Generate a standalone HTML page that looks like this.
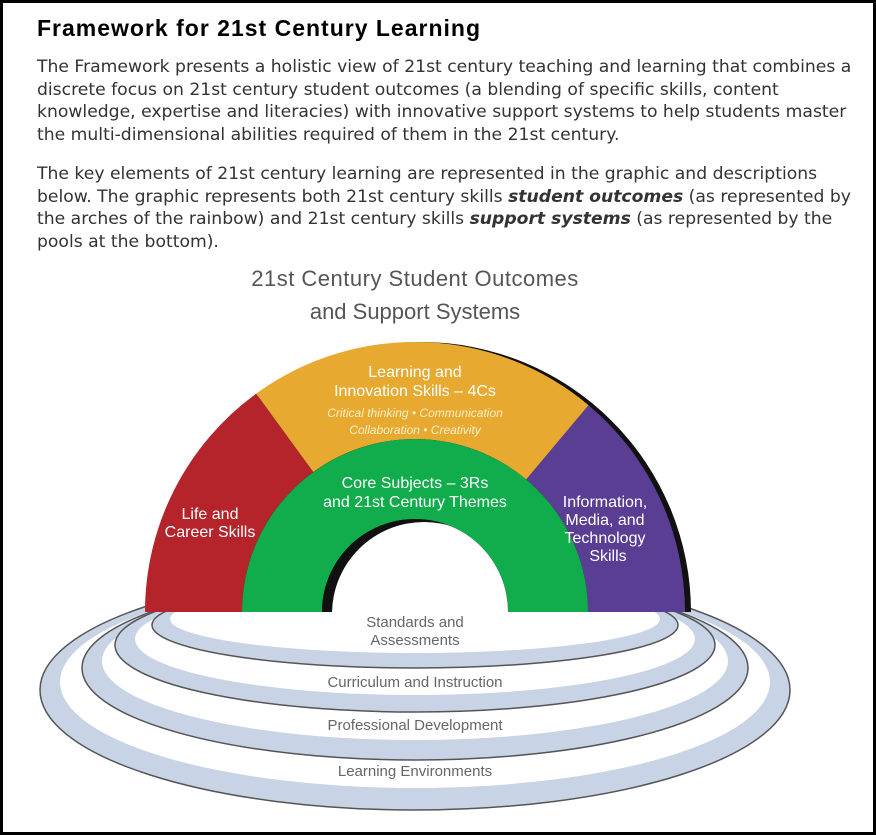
<!DOCTYPE html>
<html><head><meta charset="utf-8"><style>
html,body{margin:0;padding:0;background:#fff;}
#f{position:relative;width:876px;height:835px;box-sizing:border-box;border:3px solid #000;overflow:hidden;}
h1{position:absolute;left:34px;top:12px;margin:0;font:bold 23px "Liberation Sans",sans-serif;letter-spacing:1px;color:#000;}
.p{position:absolute;left:34px;font:17.2px "DejaVu Sans",sans-serif;color:#333;line-height:22.5px;white-space:nowrap;}
</style></head><body><div id="f">
<h1>Framework for 21st Century Learning</h1>
<div class="p" style="top:53px">The Framework presents a holistic view of 21st century teaching and learning that combines a<br>discrete focus on 21st century student outcomes (a blending of specific skills, content<br>knowledge, expertise and literacies) with innovative support systems to help students master<br>the multi-dimensional abilities required of them in the 21st century.</div>
<div class="p" style="top:160px">The key elements of 21st century learning are represented in the graphic and descriptions<br>below. The graphic represents both 21st century skills <b><i>student outcomes</i></b> (as represented by<br>the arches of the rainbow) and 21st century skills <b><i>support systems</i></b> (as represented by the<br>pools at the bottom).</div>
<svg width="876" height="835" style="position:absolute;left:-3px;top:-3px" font-family="Liberation Sans, sans-serif">
<defs><clipPath id="h"><path d="M322,612 A93,93 0 0 1 508,612 Z"/></clipPath></defs>
<text x="415" y="286" text-anchor="middle" font-size="22" fill="#555" letter-spacing="0.5">21st Century Student Outcomes</text>
<text x="415" y="319" text-anchor="middle" font-size="22" fill="#555">and Support Systems</text>
<g stroke="#555" stroke-width="1.5">
<ellipse cx="415" cy="690" rx="375" ry="120" fill="#c8d3e5"/>
<ellipse cx="415" cy="682" rx="355" ry="106" fill="#fff" stroke="none"/>
<ellipse cx="415" cy="668" rx="333" ry="92" fill="#c8d3e5"/>
<ellipse cx="415" cy="661" rx="313" ry="79" fill="#fff" stroke="none"/>
<ellipse cx="415" cy="645" rx="300" ry="67" fill="#c8d3e5"/>
<ellipse cx="415" cy="639" rx="280" ry="56" fill="#fff" stroke="none"/>
<ellipse cx="415" cy="625" rx="263" ry="43" fill="#c8d3e5"/>
<ellipse cx="415" cy="619" rx="245" ry="34" fill="#fff" stroke="none"/>
</g>
<path d="M151,612 A270,270 0 0 1 691,612 Z" fill="#111"/>
<path d="M145,612 A270,270 0 0 1 256.2,393.6 L313.3,472 A173,173 0 0 0 242,612 Z" fill="#b5232b"/>
<path d="M256.2,393.6 A270,270 0 0 1 588.6,405.2 L526.2,479.5 A173,173 0 0 0 313.3,472 Z" fill="#e8a931"/>
<path d="M588.6,405.2 A270,270 0 0 1 685,612 L588,612 A173,173 0 0 0 526.2,479.5 Z" fill="#5a3e94"/>
<path d="M242,612 A173,173 0 0 1 588,612 L508,612 A93,93 0 0 0 322,612 Z" fill="#11ac4b"/>
<path d="M322,612 A93,93 0 0 1 508,612 Z" fill="#111"/>
<g clip-path="url(#h)"><circle cx="424" cy="614" r="92" fill="#fff"/></g>
<g fill="#fff" text-anchor="middle" font-size="16">
<text x="415" y="377">Learning and</text>
<text x="415" y="396">Innovation Skills – 4Cs</text>
<text x="415" y="417" font-size="12" font-style="italic" fill="#fbefc8">Critical thinking • Communication</text>
<text x="415" y="434" font-size="12" font-style="italic" fill="#fbefc8">Collaboration • Creativity</text>
<text x="210" y="519">Life and</text>
<text x="210" y="537">Career Skills</text>
<text x="415" y="488">Core Subjects – 3Rs</text>
<text x="415" y="507">and 21st Century Themes</text>
<text x="605" y="507">Information,</text>
<text x="605" y="525">Media, and</text>
<text x="605" y="543">Technology</text>
<text x="608" y="561">Skills</text>
</g>
<g fill="#666" text-anchor="middle" font-size="15">
<text x="415" y="627">Standards and</text>
<text x="415" y="645">Assessments</text>
<text x="415" y="687">Curriculum and Instruction</text>
<text x="415" y="730">Professional Development</text>
<text x="415" y="776">Learning Environments</text>
</g>
</svg>
</div></body></html>
